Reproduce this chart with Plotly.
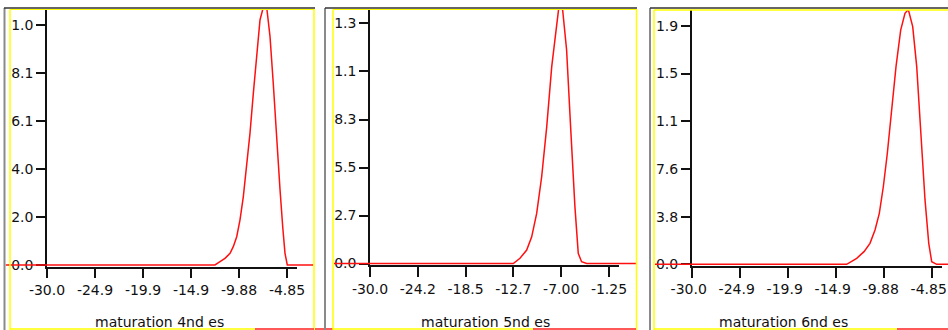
import plotly.graph_objects as go

W, H = 948, 330

# ---------------- data ----------------
titles = ["maturation 4nd es", "maturation 5nd es", "maturation 6nd es"]

x1 = [-34.35, -12.40, -11.87, -11.35, -10.82, -10.48, -10.12, -9.78, -9.43, -9.07, -8.73,
      -8.38, -8.03, -7.68, -7.33, -7.15, -6.98, -6.63, -6.29, -5.93, -5.58, -5.30, -5.06,
      -4.82, -2.07]
y1 = [0.0, 0.0, 0.14, 0.28, 0.49, 0.77, 1.19, 1.89, 2.87, 4.14, 5.54, 7.22, 8.91, 10.31,
      10.85, 11.0, 10.85, 9.61, 7.65, 5.26, 3.16, 1.61, 0.49, 0.0, 0.0]

x2 = [-34.33, -12.76, -11.96, -11.15, -10.55, -9.95, -9.35, -8.74, -8.14, -7.54, -7.23,
      -6.82, -6.35, -5.87, -5.35, -4.95, -4.55, -3.93, 2.0]
y2 = [0.0, 0.0, 0.30, 0.77, 1.53, 2.87, 4.97, 7.84, 11.28, 13.95, 14.9, 14.5, 12.23, 7.84,
      3.26, 0.58, 0.10, 0.0, 0.0]

x3 = [-33.85, -13.76, -12.71, -11.94, -11.32, -10.79, -10.34, -9.92, -9.50, -9.04, -8.59,
      -8.10, -7.65, -7.30, -6.84, -6.42, -5.97, -5.55, -5.16, -4.85, -4.33, -3.14]
y3 = [0.0, 0.0, 0.48, 1.01, 1.67, 2.73, 4.06, 6.18, 8.85, 12.30, 15.75, 18.67, 20.0, 20.3,
      18.94, 15.75, 10.44, 5.13, 1.67, 0.21, 0.0, 0.0]

xtick_vals = [[-30.0, -24.97, -19.94, -14.91, -9.88, -4.85],
              [-30.0, -24.25, -18.5, -12.75, -7.0, -1.25],
              [-30.0, -24.97, -19.94, -14.91, -9.88, -4.85]]
xtick_text = [["-30.0", "-24.9", "-19.9", "-14.9", "-9.88", "-4.85"],
              ["-30.0", "-24.2", "-18.5", "-12.7", "-7.00", "-1.25"],
              ["-30.0", "-24.9", "-19.9", "-14.9", "-9.88", "-4.85"]]
ytick_vals = [[0.0, 2.02, 4.04, 6.06, 8.08, 10.1],
              [0.0, 2.75, 5.5, 8.25, 11.0, 13.75],
              [0.0, 3.8, 7.6, 11.4, 15.2, 19.0]]
ytick_text = [["0.0", "2.0", "4.0", "6.1", "8.1", "1.0"],
              ["0.0", "2.7", "5.5", "8.3", "1.1", "1.3"],
              ["0.0", "3.8", "7.6", "1.1", "1.5", "1.9"]]

xs = [x1, x2, x3]
ys = [y1, y2, y3]

# ---------------- layout geometry (pixels) ----------------
geo = [
    dict(ax=47.0, ay=265.0, ux=0.10479, uy=0.04208, xend=-3.8, fl=5.5, fr=313.5, top=9.0, shift=0),
    dict(ax=370.0, ay=263.5, ux=0.12029, uy=0.05729, xend=0.0, fl=334.0, fr=636.0, top=9.0, shift=0),
    dict(ax=691.7, ay=264.3, ux=0.10479, uy=0.0797, xend=-3.8, fl=655.0, fr=948.0, top=10.0, shift=-3),
]

def px(x):
    return x / W

def py(y):
    return 1 - y / H

FONT = "DejaVu Sans, Verdana, sans-serif"
fig = go.Figure()
layout = dict(width=W, height=H, margin=dict(l=0, r=0, t=0, b=0, pad=0, autoexpand=False),
              paper_bgcolor="white", plot_bgcolor="rgba(0,0,0,0)", showlegend=False)

annotations = []
for i in range(3):
    g = geo[i]
    xa = 2 * i + 1
    xb = 2 * i + 2
    ya = i + 1
    xa_name = "x" if xa == 1 else f"x{xa}"
    ya_name = "y" if ya == 1 else f"y{ya}"
    xa_dom = [px(g["ax"]), px(g["ax"] + (g["xend"] + 30.0) / g["ux"])]
    xb_dom = [px(g["fl"]), min(1.0, px(g["fr"]))]
    xb_rng = [-30.0 - (g["ax"] - g["fl"]) * g["ux"], -30.0 + (g["fr"] - g["ax"]) * g["ux"]]
    ybot = g["ay"] + 1.5
    ya_dom = [py(ybot), py(g["top"])]
    ya_rng = [-1.5 * g["uy"], (g["ay"] - g["top"]) * g["uy"]]

    layout[f"xaxis{xa}"] = dict(
        domain=xa_dom, range=[-30.0, g["xend"]], anchor=ya_name, automargin=False,
        showline=True, linecolor="#111", linewidth=1.5, ticks="outside", ticklen=10,
        tickwidth=1.5, tickcolor="#111", tickvals=xtick_vals[i], ticktext=xtick_text[i],
        ticklabeloverflow="allow", ticklabelshift=g["shift"],
        tickfont=dict(family=FONT, size=14, color="#111"), showgrid=False, zeroline=False,
        fixedrange=True)
    layout[f"xaxis{xb}"] = dict(domain=xb_dom, range=xb_rng, anchor=ya_name, visible=False,
                                automargin=False, fixedrange=True)
    layout[f"yaxis{ya}"] = dict(
        domain=ya_dom, range=ya_rng, anchor=xa_name, automargin=False,
        showline=True, linecolor="#111", linewidth=1.5, ticks="outside", ticklen=9,
        tickwidth=1.5, tickcolor="#111", tickvals=ytick_vals[i], ticktext=ytick_text[i],
        ticklabeloverflow="allow",
        tickfont=dict(family=FONT, size=14, color="#111"), showgrid=False, zeroline=False,
        fixedrange=True)

    fig.add_trace(go.Scatter(x=[None], y=[None], xaxis=xa_name, yaxis=ya_name,
                             mode="lines", hoverinfo="skip"))
    fig.add_trace(go.Scatter(x=xs[i], y=ys[i], xaxis=f"x{xb}", yaxis=ya_name, mode="lines",
                             line=dict(color="#ff1010", width=1.5)))

    annotations.append(dict(text=titles[i], xref="paper", yref="paper",
                            x=px((g["fl"] + g["fr"]) / 2 if i < 2 else 783), y=py(322),
                            xanchor="center", yanchor="middle", showarrow=False,
                            font=dict(family=FONT, size=14, color="#111")))

layout["annotations"] = annotations

# ---------------- frame decorations ----------------
shapes = []
def line(x0, y0, x1_, y1_, color, width=1.5):
    shapes.append(dict(type="line", xref="paper", yref="paper", x0=px(x0), y0=py(y0),
                       x1=px(x1_), y1=py(y1_), line=dict(color=color, width=width),
                       layer="above"))

YEL = "#ffff00"
GRY = "#8a8a8a"
DRK = "#333333"
RED = "#ff2020"
# panel 1
line(4.5, 8, 4.5, 330, GRY, 2)
line(4, 8, 315, 8, DRK, 1.5)
line(10, 9.5, 10, 330, YEL, 1.5)
line(10, 9.5, 314, 9.5, YEL, 1)
line(314, 9, 314, 330, YEL, 1.5)
line(10, 329, 255, 329, YEL, 1.5)
line(255, 329, 314, 329, RED, 1.5)
# between
line(315, 329, 333, 329, RED, 1.5)
# panel 2
line(325, 8, 325, 330, GRY, 2)
line(325, 8, 637, 8, DRK, 1.5)
line(333, 9.5, 333, 330, YEL, 1.5)
line(333, 9.5, 636.5, 9.5, YEL, 1)
line(636.5, 9, 636.5, 330, YEL, 1.5)
line(333, 329, 533, 329, YEL, 1.5)
line(533, 329, 636, 329, RED, 1.5)
# panel 3
line(650, 8, 650, 330, GRY, 2)
line(650, 8, 948, 8, DRK, 1.5)
line(654, 10, 654, 330, YEL, 1.5)
line(654, 10, 948, 10, YEL, 1.5)
line(654, 329, 897, 329, YEL, 1.5)
line(897, 329, 948, 329, RED, 1.5)
layout["shapes"] = shapes

fig.update_layout(**layout)
fig.write_html("out.html")
